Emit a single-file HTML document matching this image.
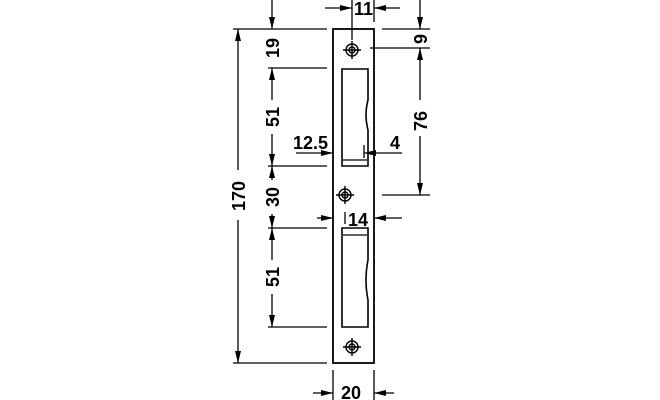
<!DOCTYPE html><html><head><style>body{margin:0;background:#fff}svg{display:block}text{font-family:"Liberation Sans",sans-serif;font-weight:bold;font-size:18px;fill:#000}</style></head><body>
<svg width="660" height="400" viewBox="0 0 660 400" stroke="#000" stroke-width="1.3" fill="none">
<defs><marker id="a" viewBox="0 0 12 6" refX="12" refY="3" markerWidth="12" markerHeight="6" orient="auto-start-reverse" markerUnits="userSpaceOnUse"><path d="M0,0L12,3L0,6z" fill="#000" stroke="none"/></marker></defs>
<rect x="333" y="29" width="41" height="334" stroke-width="1.8"/>
<path d="M342,69H368V100Q364,115 368,130V166H342Z" stroke-width="1.6"/>
<path d="M343,160H367" />
<path d="M342,228H368V260Q364,280 368,300V327H342Z" stroke-width="1.6"/>
<path d="M343,235H367"/>
<g stroke-width="1.4"><circle cx="352" cy="50" r="6"/><circle cx="352" cy="50" r="3"/><path d="M352,41V59M343,50H361"/>
<circle cx="345" cy="195" r="6"/><circle cx="345" cy="195" r="3"/><path d="M345,186V204M336,195H354"/>
<circle cx="352" cy="347" r="6"/><circle cx="352" cy="347" r="3"/><path d="M352,338V356M343,347H361"/></g>
<path d="M233,29H327M233,363H327M268,68H327M268,166H327M268,228H327M268,327H327"/>
<path d="M238,29V363" marker-start="url(#a)" marker-end="url(#a)"/>
<path d="M272,0V29" marker-end="url(#a)"/>
<path d="M272,68V166" marker-start="url(#a)" marker-end="url(#a)"/>
<path d="M272,166V228" marker-start="url(#a)" marker-end="url(#a)"/>
<path d="M272,228V327" marker-start="url(#a)" marker-end="url(#a)"/>
<path d="M370,48H430M382,195H430M382,29H430"/>
<path d="M420,0V29" marker-end="url(#a)"/>
<path d="M420,48V195" marker-start="url(#a)" marker-end="url(#a)"/>
<path d="M352,0V40M374,0V22"/>
<path d="M325,8H352" marker-end="url(#a)"/><path d="M400,8H374" marker-end="url(#a)"/>
<path d="M296,153H333" marker-end="url(#a)"/><path d="M402,153H364" marker-end="url(#a)"/><path d="M364,145V158"/>
<path d="M317,218H333" marker-end="url(#a)"/><path d="M402,218H374" marker-end="url(#a)"/><path d="M345,212V224"/>
<path d="M333,370V400M374,370V400"/>
<path d="M313,393H333" marker-end="url(#a)"/><path d="M394,393H374" marker-end="url(#a)"/>
<g stroke="none" >
<rect x="264" y="36" width="16" height="26" fill="#fff"/>
<rect x="264" y="100" width="16" height="34" fill="#fff"/>
<rect x="264" y="180" width="16" height="34" fill="#fff"/>
<rect x="264" y="260" width="16" height="34" fill="#fff"/>
<rect x="230" y="170" width="16" height="50" fill="#fff"/>
<rect x="412" y="100" width="16" height="36" fill="#fff"/>
<rect x="409" y="31" width="22" height="15" fill="#fff"/>
<text x="354" y="15">11</text>
<text x="293" y="149">12.5</text>
<text x="390" y="149">4</text>
<text x="348" y="226">14</text>
<text x="341" y="399">20</text>
<text transform="translate(245,196) rotate(-90)" text-anchor="middle">170</text>
<text transform="translate(279,48) rotate(-90)" text-anchor="middle">19</text>
<text transform="translate(279,117) rotate(-90)" text-anchor="middle">51</text>
<text transform="translate(279,197) rotate(-90)" text-anchor="middle">30</text>
<text transform="translate(279,277) rotate(-90)" text-anchor="middle">51</text>
<text transform="translate(427,121) rotate(-90)" text-anchor="middle">76</text>
<text transform="translate(427,39) rotate(-90)" text-anchor="middle">9</text>
</g>
</svg></body></html>
